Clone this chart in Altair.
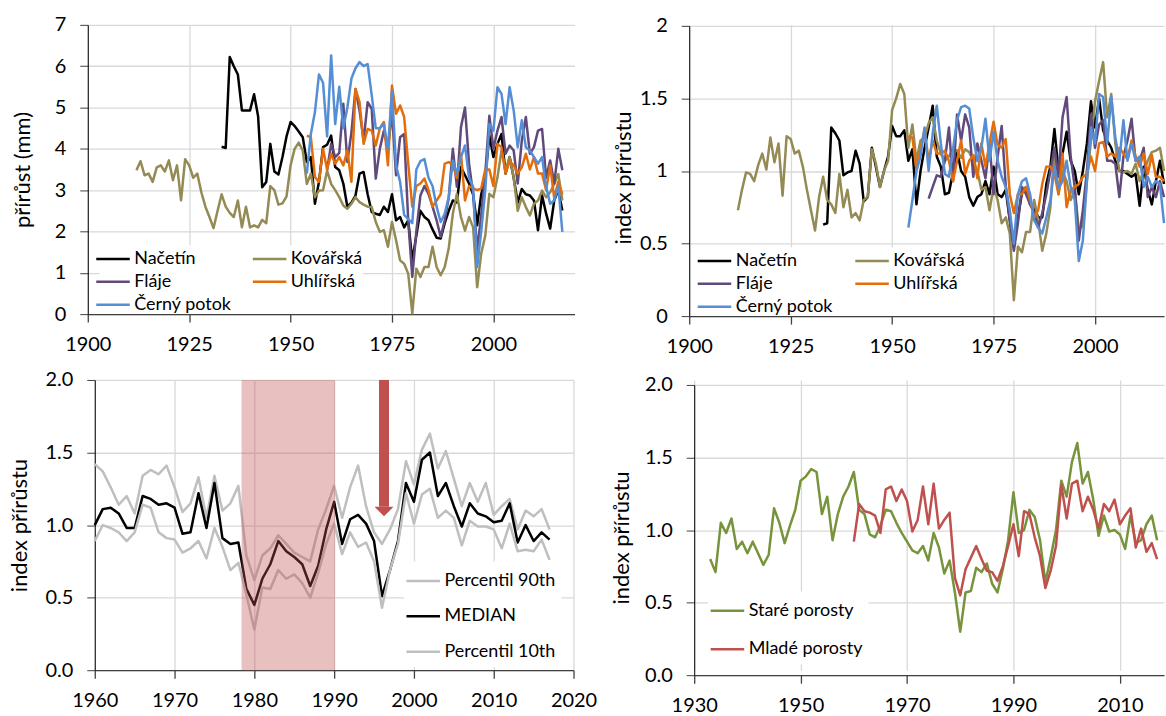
import altair as alt
import pandas as pd

FONT = "Lato"
GRID = "#D9D9D9"
AXIS_DARK = "#404040"

# ---------------------------------------------------------------------------
# Radial increment (mm) per site, first year + yearly values up to 2017
# ---------------------------------------------------------------------------
SITES = ["Načetín", "Kovářská", "Fláje", "Uhlířská", "Černý potok"]
SITE_COLORS = {"Načetín": "#000000", "Kovářská": "#948A54", "Fláje": "#604A7B",
               "Uhlířská": "#E46C0A", "Černý potok": "#558ED5"}
# legend fills columns first, so list the entries column by column
SITE_LEGEND_ORDER = ["Načetín", "Fláje", "Černý potok", "Kovářská", "Uhlířská"]

NACETIN_MM_FROM = 1933
NACETIN_MM = [
    4.05, 4.02, 6.22, 6.0, 5.8, 4.93, 4.93, 4.93, 5.32, 4.78,
    3.07, 3.2, 4.12, 3.45, 3.38, 3.8, 4.3, 4.65, 4.55, 4.42,
    4.28, 3.68, 3.8, 2.67, 3.2, 4.04, 4.1, 4.32, 3.56, 3.48,
    3.16, 2.6, 2.7, 2.87, 3.4, 3.44, 2.9, 2.47, 2.43, 2.4,
    2.6, 2.47, 2.9, 2.27, 2.35, 2.1, 2.27, 1.3, 1.9, 2.5,
    2.35, 2.27, 2.05, 1.85, 1.83, 2.2, 2.5, 2.75, 2.7, 3.56,
    3.36, 3.16, 2.9, 2.15, 2.9, 3.3, 4.32, 3.8, 4.12, 4.36,
    3.4, 3.8, 3.3, 2.7, 3.03, 2.9, 2.87, 2.75, 2.03, 2.87,
    2.43, 2.07, 2.75, 3.0, 2.51,
]
KOVARSKA_MM_FROM = 1912
KOVARSKA_MM = [
    3.48, 3.7, 3.36, 3.4, 3.2, 3.55, 3.6, 3.45, 3.72, 3.24,
    3.6, 2.75, 3.75, 3.6, 3.3, 3.4, 2.95, 2.6, 2.35, 2.08,
    2.5, 2.9, 2.6, 2.45, 2.35, 2.75, 2.1, 2.6, 2.1, 2.15,
    2.1, 2.28, 2.2, 3.1, 3.0, 2.65, 2.68, 2.85, 3.6, 4.0,
    4.15, 3.96, 3.15, 3.4, 2.83, 2.99, 3.0, 3.47, 3.15, 3.0,
    2.83, 2.63, 2.55, 2.67, 2.83, 2.71, 2.65, 2.6, 2.59, 2.23,
    1.99, 2.03, 1.63, 2.23, 1.79, 1.3, 1.22, 0.98, 0.02, 1.1,
    0.9, 1.14, 1.14, 1.63, 1.14, 0.94, 1.14, 1.6, 2.43, 2.91,
    2.35, 2.02, 2.35, 2.1, 0.65, 1.47, 1.9, 2.91, 2.83, 3.31,
    3.96, 3.47, 3.8, 3.31, 2.5, 2.83, 2.59, 2.39, 2.67, 2.75,
    2.99, 2.83, 2.95, 3.15, 3.39, 2.75,
]
FLAJE_MM_FROM = 1959
FLAJE_MM = [
    3.48, 4.12, 3.8, 3.9, 5.09, 3.68, 4.4, 5.45, 4.93, 4.2,
    5.13, 4.97, 3.28, 4.0, 4.44, 4.0, 4.89, 3.36, 4.28, 4.36,
    2.27, 0.9, 2.0, 2.87, 3.1, 2.91, 2.6, 2.27, 1.87, 2.27,
    2.83, 4.0, 3.08, 4.52, 5.0, 3.64, 2.9, 1.55, 2.4, 3.4,
    4.8, 4.0, 4.44, 4.77, 3.88, 4.08, 3.96, 3.16, 4.2, 4.77,
    3.88, 4.04, 4.44, 4.48, 3.3, 3.72, 3.16, 4.0, 3.48,
]
UHLIRSKA_MM_FROM = 1954
UHLIRSKA_MM = [
    4.32, 4.28, 3.32, 3.2, 4.0, 3.5, 3.88, 3.64, 3.8, 3.6,
    3.96, 3.2, 5.45, 5.13, 4.12, 4.48, 4.44, 4.08, 4.5, 4.65,
    3.6, 5.53, 4.85, 5.05, 4.77, 3.64, 2.6, 3.1, 3.16, 3.28,
    3.0, 2.6, 2.75, 2.9, 3.64, 3.68, 3.6, 3.3, 3.88, 2.75,
    3.1, 3.04, 3.0, 3.04, 3.5, 3.5, 3.1, 4.12, 4.04, 3.4,
    3.7, 3.6, 3.4, 3.55, 3.88, 3.5, 3.8, 3.4, 3.4, 3.0,
    3.6, 2.8, 3.2, 2.9,
]
CERNY_MM_FROM = 1954
CERNY_MM = [
    3.4, 4.36, 4.89, 5.8, 5.6, 4.3, 6.26, 4.6, 5.5, 4.5,
    5.0, 5.7, 5.95, 6.1, 6.0, 6.05, 5.3, 4.5, 4.5, 4.6,
    4.0, 5.4, 3.6, 3.2, 2.4, 2.3, 2.2, 3.5, 3.7, 3.75,
    3.3, 3.1, 2.6, 2.23, 2.43, 2.83, 3.72, 3.4, 3.8, 4.08,
    3.3, 3.08, 1.14, 2.0, 3.0, 4.6, 4.44, 5.49, 5.33, 4.6,
    5.49, 4.93, 4.04, 4.69, 4.04, 3.96, 3.8, 3.64, 3.8, 3.08,
    2.67, 2.75, 3.1, 1.99,
]

# ---------------------------------------------------------------------------
# Increment index per site
# ---------------------------------------------------------------------------
NACETIN_IDX_FROM = 1933
NACETIN_IDX = [
    0.63, 0.64, 1.3, 1.26, 1.21, 0.97, 0.99, 1.0, 1.14, 1.05,
    0.79, 0.82, 1.16, 1.03, 0.89, 1.0, 1.1, 1.31, 1.24, 1.24,
    1.28, 1.07, 1.15, 0.77, 1.0, 1.16, 1.3, 1.45, 1.1, 1.03,
    0.84, 0.85, 0.99, 1.14, 1.0, 0.96, 0.82, 0.76, 0.82, 0.84,
    0.93, 0.84, 1.03, 0.84, 0.82, 0.87, 0.66, 0.48, 0.68, 0.85,
    0.89, 0.77, 0.75, 0.68, 0.68, 0.91, 1.03, 1.29, 1.0, 1.12,
    1.27, 1.07, 1.0, 0.84, 1.0, 1.19, 1.48, 1.3, 1.5, 1.28,
    1.21, 1.16, 1.07, 1.0, 1.0, 0.98, 0.96, 0.98, 0.76, 1.03,
    0.87, 0.77, 0.93, 1.07, 0.91,
]
KOVARSKA_IDX_FROM = 1912
KOVARSKA_IDX = [
    0.73, 0.87, 0.99, 0.98, 0.93, 1.04, 1.12, 1.01, 1.23, 1.06,
    1.19, 0.83, 1.24, 1.22, 1.12, 1.14, 1.03, 0.87, 0.73, 0.59,
    0.82, 0.96, 0.80, 0.77, 0.71, 0.98, 0.75, 0.87, 0.68, 0.71,
    0.66, 0.80, 0.82, 1.15, 1.05, 0.89, 1.0, 1.07, 1.42, 1.5,
    1.6, 1.53, 1.16, 1.32, 1.07, 1.21, 1.23, 1.33, 1.37, 1.21,
    1.12, 1.07, 1.1, 1.15, 1.14, 1.09, 1.15, 1.13, 1.07, 1.0,
    0.87, 0.89, 0.73, 0.89, 0.8, 0.64, 0.68, 0.57, 0.11, 0.48,
    0.44, 0.58, 0.58, 0.8, 0.66, 0.45, 0.57, 0.75, 1.15, 0.84,
    1.0, 0.93, 0.8, 0.87, 0.6, 0.62, 0.93, 1.21, 1.48, 1.62,
    1.75, 1.37, 1.53, 1.19, 1.0, 0.99, 1.0, 0.98, 1.05, 0.93,
    1.0, 1.07, 1.13, 1.14, 1.16, 1.0,
]
FLAJE_IDX_FROM = 1959
FLAJE_IDX = [
    0.81, 0.89, 0.97, 0.96, 1.07, 1.3, 0.93, 1.39, 1.21, 1.39,
    1.3, 0.96, 1.19, 1.07, 0.95, 1.19, 0.84, 1.1, 1.31, 0.9,
    0.66, 0.45, 0.64, 0.89, 0.84, 0.77, 0.71, 0.61, 0.71, 0.84,
    1.0, 1.16, 0.96, 1.37, 1.51, 1.1, 0.89, 0.52, 0.73, 1.0,
    1.39, 1.16, 1.32, 1.35, 1.07, 1.07, 1.05, 0.82, 1.1, 1.21,
    1.36, 1.07, 1.07, 1.16, 0.82, 0.89, 0.82, 0.93, 0.82,
]
UHLIRSKA_IDX_FROM = 1954
UHLIRSKA_IDX = [
    1.24, 1.23, 1.01, 1.15, 1.29, 1.07, 1.21, 1.12, 1.12, 1.14,
    1.07, 0.93, 1.07, 1.21, 0.98, 1.07, 1.11, 0.95, 1.19, 1.03,
    1.19, 1.34, 1.18, 1.16, 1.22, 0.84, 0.71, 0.84, 0.84, 0.89,
    0.8, 0.68, 0.73, 0.91, 1.03, 1.03, 0.98, 0.84, 1.12, 0.75,
    0.87, 0.89, 0.91, 0.96, 0.98, 1.1, 1.0, 1.19, 1.2, 1.1,
    1.12, 1.1, 1.16, 1.12, 1.08, 1.21, 1.1, 1.03, 1.12, 0.98,
    1.11, 0.96, 0.96, 0.93,
]
CERNY_IDX_FROM = 1954
CERNY_IDX = [
    0.61, 0.8, 1.0, 1.1, 1.3, 1.0, 1.26, 1.45, 1.19, 0.98,
    0.96, 1.15, 1.35, 1.44, 1.45, 1.43, 1.23, 1.07, 1.16, 1.36,
    1.07, 1.27, 1.07, 0.96, 0.89, 0.73, 0.5, 0.84, 0.93, 0.95,
    0.84, 0.66, 0.61, 0.57, 0.68, 0.8, 1.03, 0.88, 0.93, 1.07,
    0.89, 0.8, 0.38, 0.52, 0.93, 1.3, 1.19, 1.53, 1.51, 1.19,
    1.51, 1.23, 1.07, 1.35, 1.07, 1.19, 1.07, 1.1, 0.89, 0.96,
    0.89, 0.93, 0.91, 0.64,
]

# ---------------------------------------------------------------------------
# Median and 10th / 90th percentile of the index, 1960–2017
# ---------------------------------------------------------------------------
BAND_FROM = 1960
BAND_NAMES = ["Percentil 90th", "MEDIAN", "Percentil 10th"]
BAND_COLORS = ["#BFBFBF", "#000000", "#BFBFBF"]
P90 = [
    1.42, 1.37, 1.26, 1.14, 1.2, 1.08, 1.34, 1.38, 1.35, 1.41,
    1.26, 1.09, 1.15, 1.33, 1.05, 1.34, 1.1, 1.15, 1.27, 0.79,
    0.62, 0.79, 0.84, 0.93, 0.87, 0.81, 0.78, 0.75, 0.97, 1.11,
    1.27, 1.05, 1.26, 1.41, 1.13, 0.95, 0.87, 0.97, 1.11, 1.44,
    1.28, 1.52, 1.63, 1.39, 1.51, 1.32, 1.13, 1.29, 1.16, 1.29,
    1.07, 1.13, 1.18, 0.97, 1.1, 1.06, 1.11, 0.97,
]
MEDIAN = [
    1.0, 1.11, 1.12, 1.08, 0.98, 0.98, 1.2, 1.18, 1.14, 1.15,
    1.12, 0.94, 0.95, 1.22, 0.98, 1.29, 0.91, 0.87, 0.88, 0.56,
    0.45, 0.63, 0.73, 0.89, 0.82, 0.78, 0.73, 0.58, 0.72, 0.97,
    1.16, 0.87, 1.04, 1.07, 1.01, 0.89, 0.51, 0.69, 0.89, 1.29,
    1.16, 1.45, 1.5, 1.2, 1.29, 1.13, 0.99, 1.15, 1.08, 1.06,
    1.02, 1.03, 1.15, 0.88, 1.0, 0.89, 0.95, 0.9,
]
P10 = [
    0.89, 1.0, 0.98, 0.95, 0.89, 0.95, 1.14, 1.12, 0.95, 0.91,
    0.9, 0.81, 0.84, 0.89, 0.77, 0.98, 0.85, 0.69, 0.74, 0.52,
    0.28, 0.57, 0.56, 0.69, 0.63, 0.66, 0.6, 0.5, 0.67, 0.87,
    1.01, 0.8, 0.95, 0.85, 0.88, 0.75, 0.43, 0.69, 0.87, 1.22,
    1.01, 1.21, 1.25, 1.05, 1.1, 1.05, 0.86, 1.03, 0.99, 0.99,
    0.97, 0.84, 1.01, 0.82, 0.83, 0.82, 0.9, 0.76,
]

# Highlighted period and the arrow marking the 1996 drop
SHADE_FROM, SHADE_TO = 1978.4, 1990.1
ARROW_YEAR = 1996.25
ARROW_TOP, ARROW_SHAFT_END, ARROW_HEAD = 2.0, 1.127, 1.093
RED = "#C0504D"

# ---------------------------------------------------------------------------
# Old vs young stands
# ---------------------------------------------------------------------------
STAND_NAMES = ["Staré porosty", "Mladé porosty"]
STAND_COLORS = ["#77933C", "#C0504D"]
STARE_FROM = 1933
STARE = [
    0.8, 0.71, 1.05, 0.98, 1.08, 0.87, 0.92, 0.84, 0.92, 0.84,
    0.76, 0.83, 1.15, 1.05, 0.91, 1.03, 1.14, 1.34, 1.37, 1.42,
    1.4, 1.11, 1.23, 0.93, 1.11, 1.23, 1.3, 1.4, 1.14, 1.11,
    0.97, 0.95, 1.03, 1.14, 1.13, 1.05, 0.98, 0.92, 0.86, 0.84,
    0.89, 0.79, 0.98, 0.88, 0.7, 0.79, 0.57, 0.3, 0.57, 0.58,
    0.74, 0.71, 0.77, 0.63, 0.57, 0.73, 0.93, 1.26, 0.98, 1.0,
    1.14, 1.09, 0.93, 0.64, 0.81, 1.0, 1.34, 1.23, 1.47, 1.6,
    1.32, 1.4, 1.21, 0.96, 1.1, 0.99, 1.0, 0.97, 0.87, 1.1,
    0.91, 0.93, 1.04, 1.1, 0.93,
]
MLADE_FROM = 1960
MLADE = [
    0.92, 1.18, 1.13, 1.12, 1.1, 0.98, 1.28, 1.3, 1.2, 1.28,
    1.2, 0.99, 1.07, 1.3, 1.04, 1.32, 1.01, 1.07, 1.12, 0.67,
    0.55, 0.73, 0.81, 0.89, 0.8, 0.72, 0.71, 0.65, 0.75, 0.89,
    1.04, 0.82, 1.13, 1.11, 0.95, 0.82, 0.6, 0.72, 0.89, 1.31,
    1.08, 1.32, 1.34, 1.13, 1.23, 1.14, 1.01, 1.18, 1.13, 1.21,
    1.04, 1.1, 1.15, 0.88, 1.01, 0.85, 0.91, 0.8,
]


def long_table(parts):
    frames = []
    for name, start, values in parts:
        frames.append(pd.DataFrame({
            "rok": list(range(start, start + len(values))),
            "hodnota": values,
            "serie": name,
        }))
    return pd.concat(frames, ignore_index=True)


df_mm = long_table([
    ("Načetín", NACETIN_MM_FROM, NACETIN_MM),
    ("Kovářská", KOVARSKA_MM_FROM, KOVARSKA_MM),
    ("Fláje", FLAJE_MM_FROM, FLAJE_MM),
    ("Uhlířská", UHLIRSKA_MM_FROM, UHLIRSKA_MM),
    ("Černý potok", CERNY_MM_FROM, CERNY_MM),
])
df_idx = long_table([
    ("Načetín", NACETIN_IDX_FROM, NACETIN_IDX),
    ("Kovářská", KOVARSKA_IDX_FROM, KOVARSKA_IDX),
    ("Fláje", FLAJE_IDX_FROM, FLAJE_IDX),
    ("Uhlířská", UHLIRSKA_IDX_FROM, UHLIRSKA_IDX),
    ("Černý potok", CERNY_IDX_FROM, CERNY_IDX),
])
df_band = long_table([
    ("Percentil 90th", BAND_FROM, P90),
    ("MEDIAN", BAND_FROM, MEDIAN),
    ("Percentil 10th", BAND_FROM, P10),
])
df_stand = long_table([
    ("Staré porosty", STARE_FROM, STARE),
    ("Mladé porosty", MLADE_FROM, MLADE),
])
df_shade = pd.DataFrame({"rok": [SHADE_FROM], "rok2": [SHADE_TO],
                         "hodnota": [0.0], "hodnota2": [2.0]})
df_shaft = pd.DataFrame({"rok": [ARROW_YEAR], "hodnota": [ARROW_TOP],
                         "hodnota2": [ARROW_SHAFT_END]})
df_head = pd.DataFrame({"rok": [ARROW_YEAR], "hodnota": [ARROW_HEAD]})


def x_axis(values, offset=0):
    return alt.Axis(
        values=values, format="d", title=None, offset=offset,
        grid=True, gridColor=GRID, gridWidth=1.3,
        domainColor=AXIS_DARK, domainWidth=1.3,
        tickColor=AXIS_DARK, tickWidth=1.3, tickSize=8,
        labelFontSize=20, labelPadding=12, labelColor="black",
        labelFlush=False, labelOverlap=False,
    )


def y_axis(values, fmt, title, title_x, title_y=None, offset=0):
    extra = {} if title_y is None else {"titleY": title_y}
    return alt.Axis(
        values=values, format=fmt, title=title, offset=offset,
        grid=True, gridColor=GRID, gridWidth=1.3,
        domainColor="black", domainWidth=1,
        tickColor=AXIS_DARK, tickWidth=1, tickSize=8,
        labelFontSize=20, labelPadding=14, labelColor="black",
        labelFlush=False, labelOverlap=False,
        titleFontSize=22, titleFontWeight="normal", titleColor="black",
        titleX=title_x, **extra,
    )


# Horizontal line swatch, a little longer than the default symbol box
SWATCH = "M-1.4,0L1.4,0"


def legend(x, y, columns=1, row_pad=0, col_pad=15, pad=0):
    return alt.Legend(
        orient="none", legendX=x, legendY=y, title=None, columns=columns,
        symbolType=SWATCH, symbolSize=576, symbolStrokeWidth=2.5,
        labelFontSize=18, labelColor="black", labelOffset=7.8,
        rowPadding=row_pad, columnPadding=col_pad, padding=pad,
        fillColor="white",
    )


LINE = dict(strokeWidth=2.5, strokeJoin="round")
site_scale = alt.Scale(domain=SITE_LEGEND_ORDER,
                       range=[SITE_COLORS[s] for s in SITE_LEGEND_ORDER])

# Top left: increment in mm
top_left = alt.Chart(df_mm).mark_line(**LINE).encode(
    x=alt.X("rok:Q", scale=alt.Scale(domain=[1900, 2020], nice=False, zero=False),
            axis=x_axis([1900, 1925, 1950, 1975, 2000])),
    y=alt.Y("hodnota:Q", scale=alt.Scale(domain=[0, 7], nice=False),
            axis=y_axis(list(range(8)), "d", "přírůst (mm)", -53)),
    color=alt.Color("serie:N", scale=site_scale,
                    legend=legend(11.8, 221, columns=2, row_pad=0, col_pad=15)),
).properties(width=488, height=290)

# Top right: increment index
top_right = alt.Chart(df_idx).mark_line(**LINE).encode(
    x=alt.X("rok:Q", scale=alt.Scale(domain=[1900, 2017], nice=False, zero=False),
            axis=x_axis([1900, 1925, 1950, 1975, 2000])),
    y=alt.Y("hodnota:Q", scale=alt.Scale(domain=[0, 2], range=[292, 1], nice=False),
            axis=y_axis([0, 0.5, 1, 1.5, 2], "~g", "index přírůstu", -54, 153)),
    color=alt.Color("serie:N", scale=site_scale,
                    legend=legend(11.8, 223, columns=2, row_pad=0, col_pad=16)),
).properties(width=476, height=292)

# Bottom left: percentile band with the highlighted period
bl_x = alt.X("rok:Q", scale=alt.Scale(domain=[1960, 2020], range=[7, 487], nice=False, zero=False),
             axis=x_axis(list(range(1960, 2021, 10))))
bl_y = alt.Y("hodnota:Q", scale=alt.Scale(domain=[0, 2], nice=False),
             axis=y_axis([0, 0.5, 1, 1.5, 2], ".1f", "index přírůstu", -63, offset=-7))

band_lines = alt.Chart(df_band).mark_line(**LINE).encode(
    x=bl_x, y=bl_y,
    color=alt.Color("serie:N", scale=alt.Scale(domain=BAND_NAMES, range=BAND_COLORS),
                    legend=legend(316.8, 182, row_pad=12.5, pad=6)),
)
shade = alt.Chart(df_shade).mark_rect(color=RED, opacity=0.36).encode(
    x=bl_x, x2="rok2:Q", y=bl_y, y2="hodnota2:Q")
shaft = alt.Chart(df_shaft).mark_rule(color=RED, strokeWidth=10).encode(
    x=bl_x, y=bl_y, y2="hodnota2:Q")
head = alt.Chart(df_head).mark_point(
    shape="M-1,-0.5L1,-0.5L0,0.5Z", filled=True, color=RED, opacity=1, size=361, strokeWidth=0
).encode(x=bl_x, y=bl_y)

bottom_left = alt.layer(band_lines, shade, shaft, head).properties(width=487, height=291)

# Bottom right: old vs young stands
bottom_right = alt.Chart(df_stand).mark_line(**LINE).encode(
    x=alt.X("rok:Q", scale=alt.Scale(domain=[1930, 2018.3], range=[5, 476], nice=False, zero=False),
            axis=x_axis([1930, 1950, 1970, 1990, 2010])),
    y=alt.Y("hodnota:Q", scale=alt.Scale(domain=[0, 2], range=[296, 5], nice=False),
            axis=y_axis([0, 0.5, 1, 1.5, 2], ".1f", "index přírůstu", -61, 158, offset=-5)),
    color=alt.Color("serie:N", scale=alt.Scale(domain=STAND_NAMES, range=STAND_COLORS),
                    legend=legend(18.8, 212, row_pad=15.5, pad=6)),
).properties(width=476, height=296)

chart = alt.concat(
    top_left, top_right, bottom_left, bottom_right,
    columns=2, spacing={"row": 64, "column": 115}, bounds="flush", align="each",
).resolve_scale(
    x="independent", y="independent", color="independent"
).resolve_legend(color="independent").properties(
    padding={"left": 8, "top": 14, "right": 0, "bottom": 0}
).configure_view(stroke=None).configure_axis(
    labelFont=FONT, titleFont=FONT
).configure_legend(labelFont=FONT)

chart.save("out.html", embed_options={"renderer": "svg", "actions": False})
